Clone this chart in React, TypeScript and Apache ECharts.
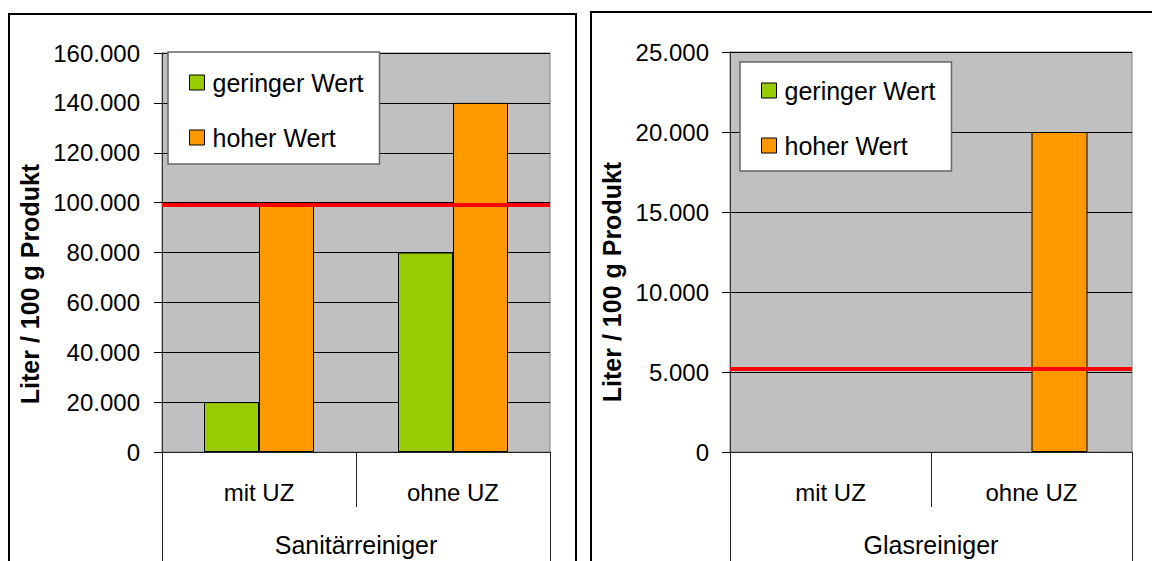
import React, { useEffect, useRef } from "react";
import * as echarts from "echarts";

// ---- data ----
const categories = ["mit UZ", "ohne UZ"];
const groupLeft = ["Sanitärreiniger"];
const groupRight = ["Glasreiniger"];
const seriesNames = ["geringer Wert", "hoher Wert"];

const sanitaerGering = [20000, 80000];
const sanitaerHoch = [99000, 140000];
const sanitaerLimit = 99000;

const glasGering: (number | null)[] = [null, null];
const glasHoch: (number | null)[] = [null, 20000];
const glasLimit = 5200;

const leftAxis = { min: 0, max: 160000, interval: 20000 };
const rightAxis = { min: 0, max: 25000, interval: 5000 };

const yTitle = "Liter / 100 g Produkt";

const FONT = "'Liberation Sans', Arial, sans-serif";
const GREEN = "#99cc00";
const ORANGE = "#ff9900";

const fmt = (v: number) => String(v).replace(/\B(?=(\d{3})+(?!\d))/g, ".");

function makeX(gridIndex: number, data: string[], group: boolean) {
  return {
    type: "category",
    gridIndex,
    data,
    position: "bottom",
    boundaryGap: true,
    axisLine: { show: !group, lineStyle: { color: "#222", width: 1 } },
    axisTick: {
      show: true,
      alignWithLabel: false,
      length: group ? 130 : 55,
      lineStyle: { color: "#222", width: 1 },
    },
    axisLabel: {
      color: "#000",
      fontFamily: FONT,
      fontSize: group ? 25 : 24,
      margin: group ? 80 : 28,
      interval: 0,
    },
    splitLine: { show: false },
  };
}

function makeY(gridIndex: number, ax: { min: number; max: number; interval: number }, margin: number) {
  return {
    type: "value",
    gridIndex,
    min: ax.min,
    max: ax.max,
    interval: ax.interval,
    axisLine: { show: true, lineStyle: { color: "#333", width: 1 } },
    axisTick: { show: true, length: 8, lineStyle: { color: "#000", width: 1 } },
    axisLabel: {
      color: "#000",
      fontFamily: FONT,
      fontSize: 24,
      margin,
      formatter: (v: number) => fmt(v),
    },
    splitLine: { show: true, lineStyle: { color: "#000", width: 1 } },
  };
}

function barSeries(name: string, data: (number | null)[], color: string, xi: number, yi: number, width: number, limit?: number) {
  const s: any = {
    name,
    type: "bar",
    xAxisIndex: xi,
    yAxisIndex: yi,
    data,
    barWidth: width,
    barGap: "0%",
    itemStyle: { color, borderColor: "#000", borderWidth: 1 },
    emphasis: { disabled: true },
  };
  if (limit !== undefined) {
    s.markLine = {
      silent: true,
      symbol: ["none", "none"],
      label: { show: false },
      lineStyle: { color: "#ff0000", width: 4, type: "solid" },
      data: [{ yAxis: limit }],
      z: 10,
    };
  }
  return s;
}

function makeLegend(left: number, top: number, padding: number[]) {
  return {
    orient: "vertical",
    left,
    top,
    data: seriesNames,
    icon: "rect",
    itemWidth: 15,
    itemHeight: 15,
    itemGap: 30,
    itemStyle: { borderColor: "#000", borderWidth: 1 },
    textStyle: {
      fontFamily: FONT, fontSize: 25, color: "#000", lineHeight: 25,
      padding: [0, 0, 0, 3],
    },
    backgroundColor: "#ffffff",
    borderColor: "#666",
    borderWidth: 1.5,
    borderRadius: 0,
    padding,
    selectedMode: false,
  };
}

export default function App() {
  const ref = useRef<HTMLDivElement>(null);
  useEffect(() => {
    if (!ref.current) return;
    const chart = echarts.init(ref.current, null, { renderer: "svg" });
    const option: any = {
      animation: false,
      backgroundColor: "#ffffff",
      grid: [
        {
          left: 162, top: 53, width: 388, height: 399,
          show: true, backgroundColor: "#c0c0c0", borderColor: "#808080", borderWidth: 1,
          containLabel: false,
        },
        {
          left: 730, top: 52, width: 402, height: 400,
          show: true, backgroundColor: "#c0c0c0", borderColor: "#808080", borderWidth: 1,
          containLabel: false,
        },
      ],
      legend: [
        makeLegend(168, 52, [18, 16, 14, 21]),
        makeLegend(740, 62, [16, 16, 13, 21]),
      ],
      xAxis: [
        makeX(0, categories, false),
        makeX(0, groupLeft, true),
        makeX(1, categories, false),
        makeX(1, groupRight, true),
      ],
      yAxis: [makeY(0, leftAxis, 22), makeY(1, rightAxis, 21)],
      series: [
        barSeries(seriesNames[0], sanitaerGering, GREEN, 0, 0, 55),
        barSeries(seriesNames[1], sanitaerHoch, ORANGE, 0, 0, 55, sanitaerLimit),
        barSeries(seriesNames[0], glasGering, GREEN, 2, 1, 56),
        barSeries(seriesNames[1], glasHoch, ORANGE, 2, 1, 56, glasLimit),
      ],
      graphic: [
        {
          type: "rect", silent: true, z: -1,
          shape: { x: 9, y: 14, width: 567, height: 600 },
          style: { fill: "none", stroke: "#000", lineWidth: 2 },
        },
        {
          type: "rect", silent: true, z: -1,
          shape: { x: 591, y: 12, width: 600, height: 600 },
          style: { fill: "none", stroke: "#000", lineWidth: 2 },
        },
        {
          type: "text", x: 30, y: 284, rotation: Math.PI / 2,
          style: {
            text: yTitle, fontFamily: FONT, fontSize: 25, fontWeight: "bold",
            fill: "#000", align: "center", verticalAlign: "middle",
          },
        },
        {
          type: "text", x: 612, y: 282, rotation: Math.PI / 2,
          style: {
            text: yTitle, fontFamily: FONT, fontSize: 25, fontWeight: "bold",
            fill: "#000", align: "center", verticalAlign: "middle",
          },
        },
      ],
    };
    chart.setOption(option);
    return () => chart.dispose();
  }, []);
  return (
    <div
      ref={ref}
      style={{ position: "absolute", left: 0, top: 0, width: 1152, height: 561 }}
    />
  );
}
